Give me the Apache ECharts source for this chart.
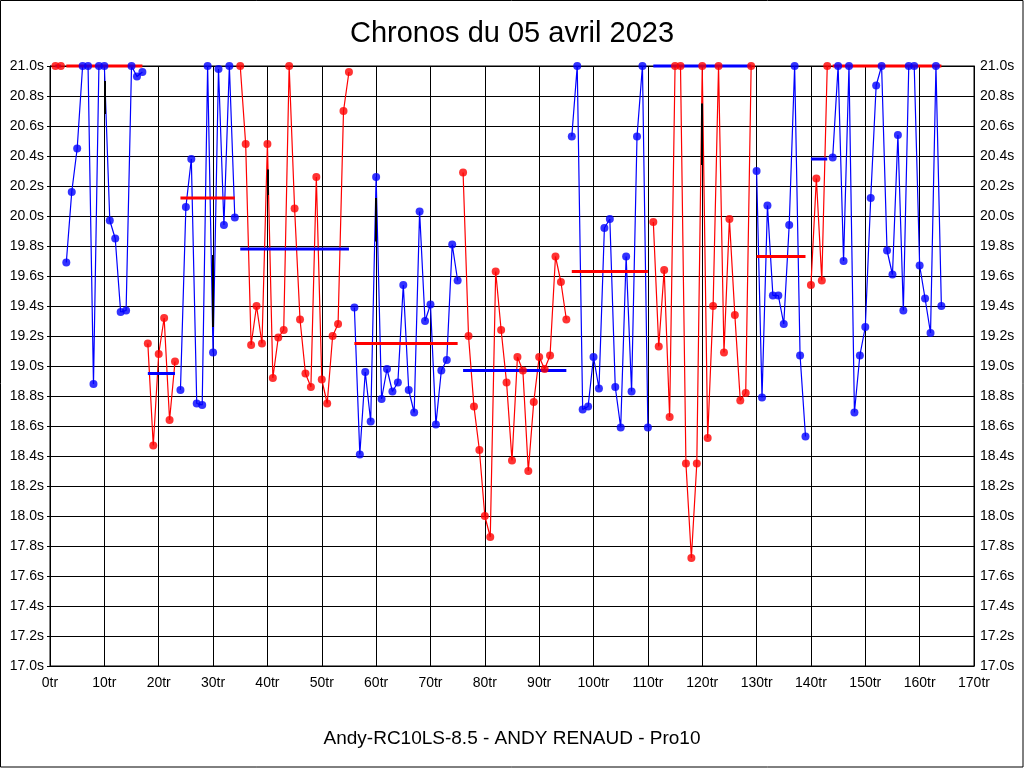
<!DOCTYPE html>
<html>
<head>
<meta charset="utf-8">
<script src="https://cdn.jsdelivr.net/npm/echarts@6/dist/echarts.min.js"></script>
<style>
  html, body { margin: 0; padding: 0; background: #fff; }
  #chart { width: 1024px; height: 768px; }
</style>
</head>
<body>
<div id="chart"></div>
<script>
// ---- Data (lap times in seconds, values at 21.0 are drawn at the chart top) ----
const stintStartLaps = [1, 3, 18, 24, 35, 56, 76, 96, 111, 130, 140, 144];

const stint01 = [21.0, 21.0];
const stint02 = [19.69, 20.16, 20.45, 21.0, 21.0, 18.88, 21.0, 21.0, 19.97, 19.85, 19.36, 19.37, 21.0, 20.93, 20.96];
const stint03 = [19.15, 18.47, 19.08, 19.32, 18.64, 19.03];
const stint04 = [18.84, 20.06, 20.38, 18.75, 18.74, 21.0, 19.09, 20.98, 19.94, 21.0, 19.99];
const stint05 = [21.0, 20.48, 19.14, 19.40, 19.15, 20.48, 18.92, 19.19, 19.24, 21.0, 20.05, 19.31, 18.95, 18.86, 20.26, 18.91, 18.75, 19.20, 19.28, 20.70, 20.96];
const stint06 = [19.39, 18.41, 18.96, 18.63, 20.26, 18.78, 18.98, 18.83, 18.89, 19.54, 18.84, 18.69, 20.03, 19.30, 19.41, 18.61, 18.97, 19.04, 19.81, 19.57];
const stint07 = [20.29, 19.20, 18.73, 18.44, 18.00, 17.86, 19.63, 19.24, 18.89, 18.37, 19.06, 18.97, 18.30, 18.76, 19.06, 18.98, 19.07, 19.73, 19.56, 19.31];
const stint08 = [20.53, 21.0, 18.71, 18.73, 19.06, 18.85, 19.92, 19.98, 18.86, 18.59, 19.73, 18.83, 20.53, 21.0, 18.59];
const stint09 = [19.96, 19.13, 19.64, 18.66, 21.0, 21.0, 18.35, 17.72, 18.35, 21.0, 18.52, 19.40, 21.0, 19.09, 19.98, 19.34, 18.77, 18.82, 21.0];
const stint10 = [20.30, 18.79, 20.07, 19.47, 19.47, 19.28, 19.94, 21.0, 19.07, 18.53];
const stint11 = [19.54, 20.25, 19.57, 21.0];
const stint12 = [20.39, 21.0, 19.70, 21.0, 18.69, 19.07, 19.26, 20.12, 20.87, 21.0, 19.77, 19.61, 20.54, 19.37, 21.0, 21.0, 19.67, 19.45, 19.22, 21.0, 19.40];

const stintAverages = [21.0, 21.0, 18.95, 20.12, 19.78, 19.15, 18.97, 19.63, 21.0, 19.73, 20.38, 21.0];

// black vertical marks: [lap, from, to]
const blackMarks = [[10, 20.90, 20.68], [30, 19.74, 19.26], [40, 20.31, 20.14], [60, 20.12, 19.83], [120, 20.75, 20.34]];

const titleText = 'Chronos du 05 avril 2023';
const footerText = 'Andy-RC10LS-8.5 - ANDY RENAUD - Pro10';

// ---- Styles ----
const RED = '#ff0000';
const BLUE = '#0000ff';
const FONT = '"Liberation Sans", Arial, Helvetica, sans-serif';

const stints = [stint01, stint02, stint03, stint04, stint05, stint06, stint07, stint08, stint09, stint10, stint11, stint12];

const series = [];
stints.forEach((vals, i) => {
  const start = stintStartLaps[i];
  const pts = vals.map((v, k) => [start + k, v]);
  const color = i % 2 === 0 ? RED : BLUE;
  const avgColor = i % 2 === 0 ? BLUE : RED;
  series.push({
    type: 'line', data: pts, symbol: 'none', clip: false, z: 2,
    lineStyle: { width: 1.2, color: color }, silent: true
  });
  series.push({
    type: 'line', data: [[start, stintAverages[i]], [start + vals.length - 1, stintAverages[i]]],
    symbol: 'none', clip: false, z: 3,
    lineStyle: { width: 3, color: avgColor }, silent: true
  });
  series.push({
    type: 'scatter', data: pts, symbol: 'circle', symbolSize: 8, clip: false, z: 4,
    itemStyle: { color: color }, silent: true
  });
});
series.push({
  type: 'lines', coordinateSystem: 'cartesian2d', z: 5, silent: true,
  data: blackMarks.map(m => ({ coords: [[m[0], m[1]], [m[0], m[2]]] })),
  lineStyle: { color: '#000', width: 2, opacity: 1 }
});

const yLabel = v => v.toFixed(1) + 's';

const option = {
  animation: false,
  backgroundColor: '#fff',
  title: [
    { text: titleText, left: 'center', top: 14,
      textStyle: { fontFamily: FONT, fontSize: 29, fontWeight: 'normal', color: '#000' } },
    { text: footerText, left: 'center', top: 724,
      textStyle: { fontFamily: FONT, fontSize: 19, fontWeight: 'normal', color: '#000' } }
  ],
  grid: { left: 50, right: 50, top: 66, bottom: 102, show: true, borderColor: '#000', borderWidth: 1 },
  xAxis: {
    type: 'value', min: 0, max: 170, interval: 10,
    axisLine: { show: true, lineStyle: { color: '#000', width: 1 } },
    axisTick: { show: false },
    splitLine: { show: true, lineStyle: { color: '#000', width: 1 } },
    axisLabel: { formatter: '{value}tr', color: '#000', fontFamily: FONT, fontSize: 14, margin: 10,
                 showMinLabel: true, showMaxLabel: true }
  },
  yAxis: [
    { type: 'value', min: 17, max: 21, interval: 0.2, position: 'left',
      axisLine: { show: true, lineStyle: { color: '#000', width: 1 } },
      axisTick: { show: true, length: 3, lineStyle: { color: '#000' } },
      splitLine: { show: true, lineStyle: { color: '#000', width: 1 } },
      axisLabel: { formatter: yLabel, color: '#000', fontFamily: FONT, fontSize: 14, margin: 6,
                   showMinLabel: true, showMaxLabel: true } },
    { type: 'value', min: 17, max: 21, interval: 0.2, position: 'right',
      axisLine: { show: true, lineStyle: { color: '#000', width: 1 } },
      axisTick: { show: false },
      splitLine: { show: false },
      axisLabel: { formatter: yLabel, color: '#000', fontFamily: FONT, fontSize: 14, margin: 6,
                   showMinLabel: true, showMaxLabel: true } }
  ],
  graphic: [
    { type: 'rect', z: 100, silent: true,
      shape: { x: 0.5, y: 0.5, width: 1022.5, height: 766.5 },
      style: { fill: 'none', stroke: '#000', lineWidth: 1 } }
  ],
  series: series
};

const chart = echarts.init(document.getElementById('chart'), null, { renderer: 'canvas' });
chart.setOption(option);
</script>
</body>
</html>
